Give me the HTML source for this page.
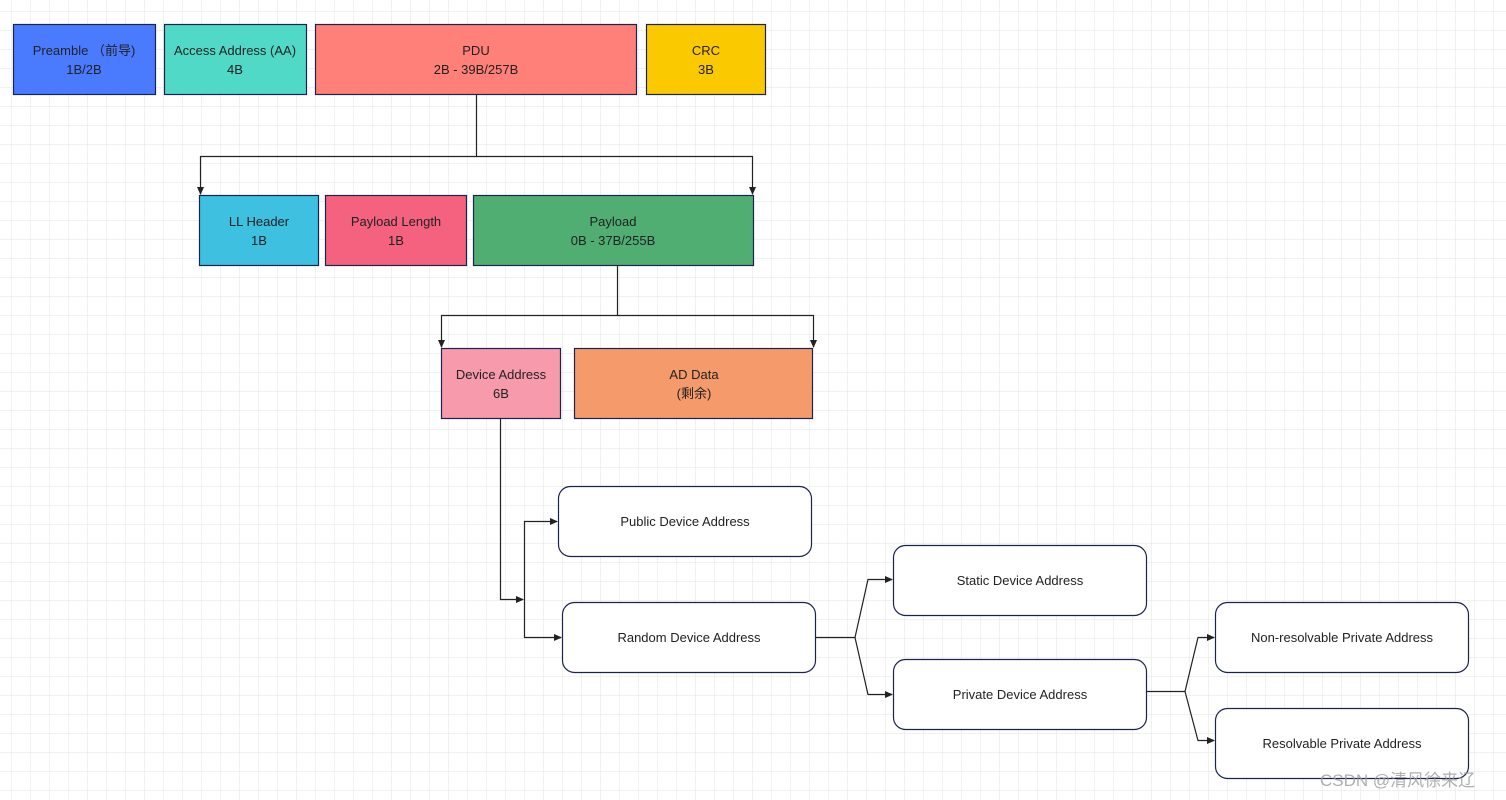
<!DOCTYPE html>
<html><head><meta charset="utf-8"><style>
html,body{margin:0;padding:0;width:1506px;height:800px;overflow:hidden;background:#fff;}
svg{display:block;font-family:"Liberation Sans","Noto Sans CJK SC",sans-serif;}
</style></head><body>
<svg width="1506" height="800" viewBox="0 0 1506 800" xmlns="http://www.w3.org/2000/svg">
<defs>
<pattern id="g" x="11" y="11" width="19" height="19" patternUnits="userSpaceOnUse">
<path d="M0 0H19M0 0V19" stroke="#e3e3e3" stroke-width="1" fill="none"/>
</pattern>
<marker id="a" markerWidth="8" markerHeight="8" refX="7" refY="4" orient="auto" markerUnits="userSpaceOnUse">
<path d="M0,0.5 L8,4 L0,7.5z" fill="#222"/>
</marker>
</defs>
<rect width="1506" height="800" fill="url(#g)"/>
<g stroke="#1a2450" stroke-width="1.2">
<rect x="13.5" y="24.5" width="142" height="70" fill="#4a7bff"/>
<rect x="164.5" y="24.5" width="142" height="70" fill="#4fd9c6"/>
<rect x="315.5" y="24.5" width="321" height="70" fill="#ff7f79"/>
<rect x="646.5" y="24.5" width="119" height="70" fill="#fac900"/>
<rect x="199.5" y="195.5" width="119" height="70" fill="#3ec0e0"/>
<rect x="325.5" y="195.5" width="141" height="70" fill="#f4627f"/>
<rect x="473.5" y="195.5" width="280" height="70" fill="#50ae73"/>
<rect x="441.5" y="348.5" width="119" height="70" fill="#f79aab"/>
<rect x="574.5" y="348.5" width="238" height="70" fill="#f59a6b"/>
<g fill="#fff">
<rect x="558.5" y="486.5" width="253" height="70" rx="12"/>
<rect x="562.5" y="602.5" width="253" height="70" rx="12"/>
<rect x="893.5" y="545.5" width="253" height="70" rx="12"/>
<rect x="893.5" y="659.5" width="253" height="70" rx="12"/>
<rect x="1215.5" y="602.5" width="253" height="70" rx="12"/>
<rect x="1215.5" y="708.5" width="253" height="70" rx="12"/>
</g>
</g>
<g stroke="#222" stroke-width="1.2" fill="none">
<path d="M476.5 95V156.5H200.5V194" marker-end="url(#a)"/>
<path d="M476.5 156.5H752.5V194" marker-end="url(#a)"/>
<path d="M617.5 265V315.5H441.5V347" marker-end="url(#a)"/>
<path d="M617.5 315.5H813.5V347" marker-end="url(#a)"/>
<path d="M500.5 418V599.5H523" marker-end="url(#a)"/>
<path d="M524.5 599.5V521.5H557" marker-end="url(#a)"/>
<path d="M524.5 599.5V637.5H561" marker-end="url(#a)"/>
<path d="M816 637.5H855L868 579.5H892" marker-end="url(#a)"/>
<path d="M855 637.5L868 694.5H892" marker-end="url(#a)"/>
<path d="M1147 691.5H1185L1198 637.5H1214" marker-end="url(#a)"/>
<path d="M1185 691.5L1198 740.5H1214" marker-end="url(#a)"/>
</g>
<g font-size="13" fill="#222" text-anchor="middle">
<text x="84" y="55">Preamble （前导)</text><text x="84" y="74">1B/2B</text>
<text x="235" y="55">Access Address (AA)</text><text x="235" y="74">4B</text>
<text x="476" y="55">PDU</text><text x="476" y="74">2B - 39B/257B</text>
<text x="706" y="55">CRC</text><text x="706" y="74">3B</text>
<text x="259" y="226">LL Header</text><text x="259" y="245">1B</text>
<text x="396" y="226">Payload Length</text><text x="396" y="245">1B</text>
<text x="613" y="226">Payload</text><text x="613" y="245">0B - 37B/255B</text>
<text x="501" y="379">Device Address</text><text x="501" y="398">6B</text>
<text x="694" y="379">AD Data</text><text x="694" y="398">(剩余)</text>
<text x="685" y="526">Public Device Address</text>
<text x="689" y="642">Random Device Address</text>
<text x="1020" y="585">Static Device Address</text>
<text x="1020" y="699">Private Device Address</text>
<text x="1342" y="642">Non-resolvable Private Address</text>
<text x="1342" y="748">Resolvable Private Address</text>
</g>
<text x="1320" y="786" font-size="17" fill="#9a9a9a" opacity="0.8">CSDN @清风徐来辽</text>
</svg>
</body></html>
